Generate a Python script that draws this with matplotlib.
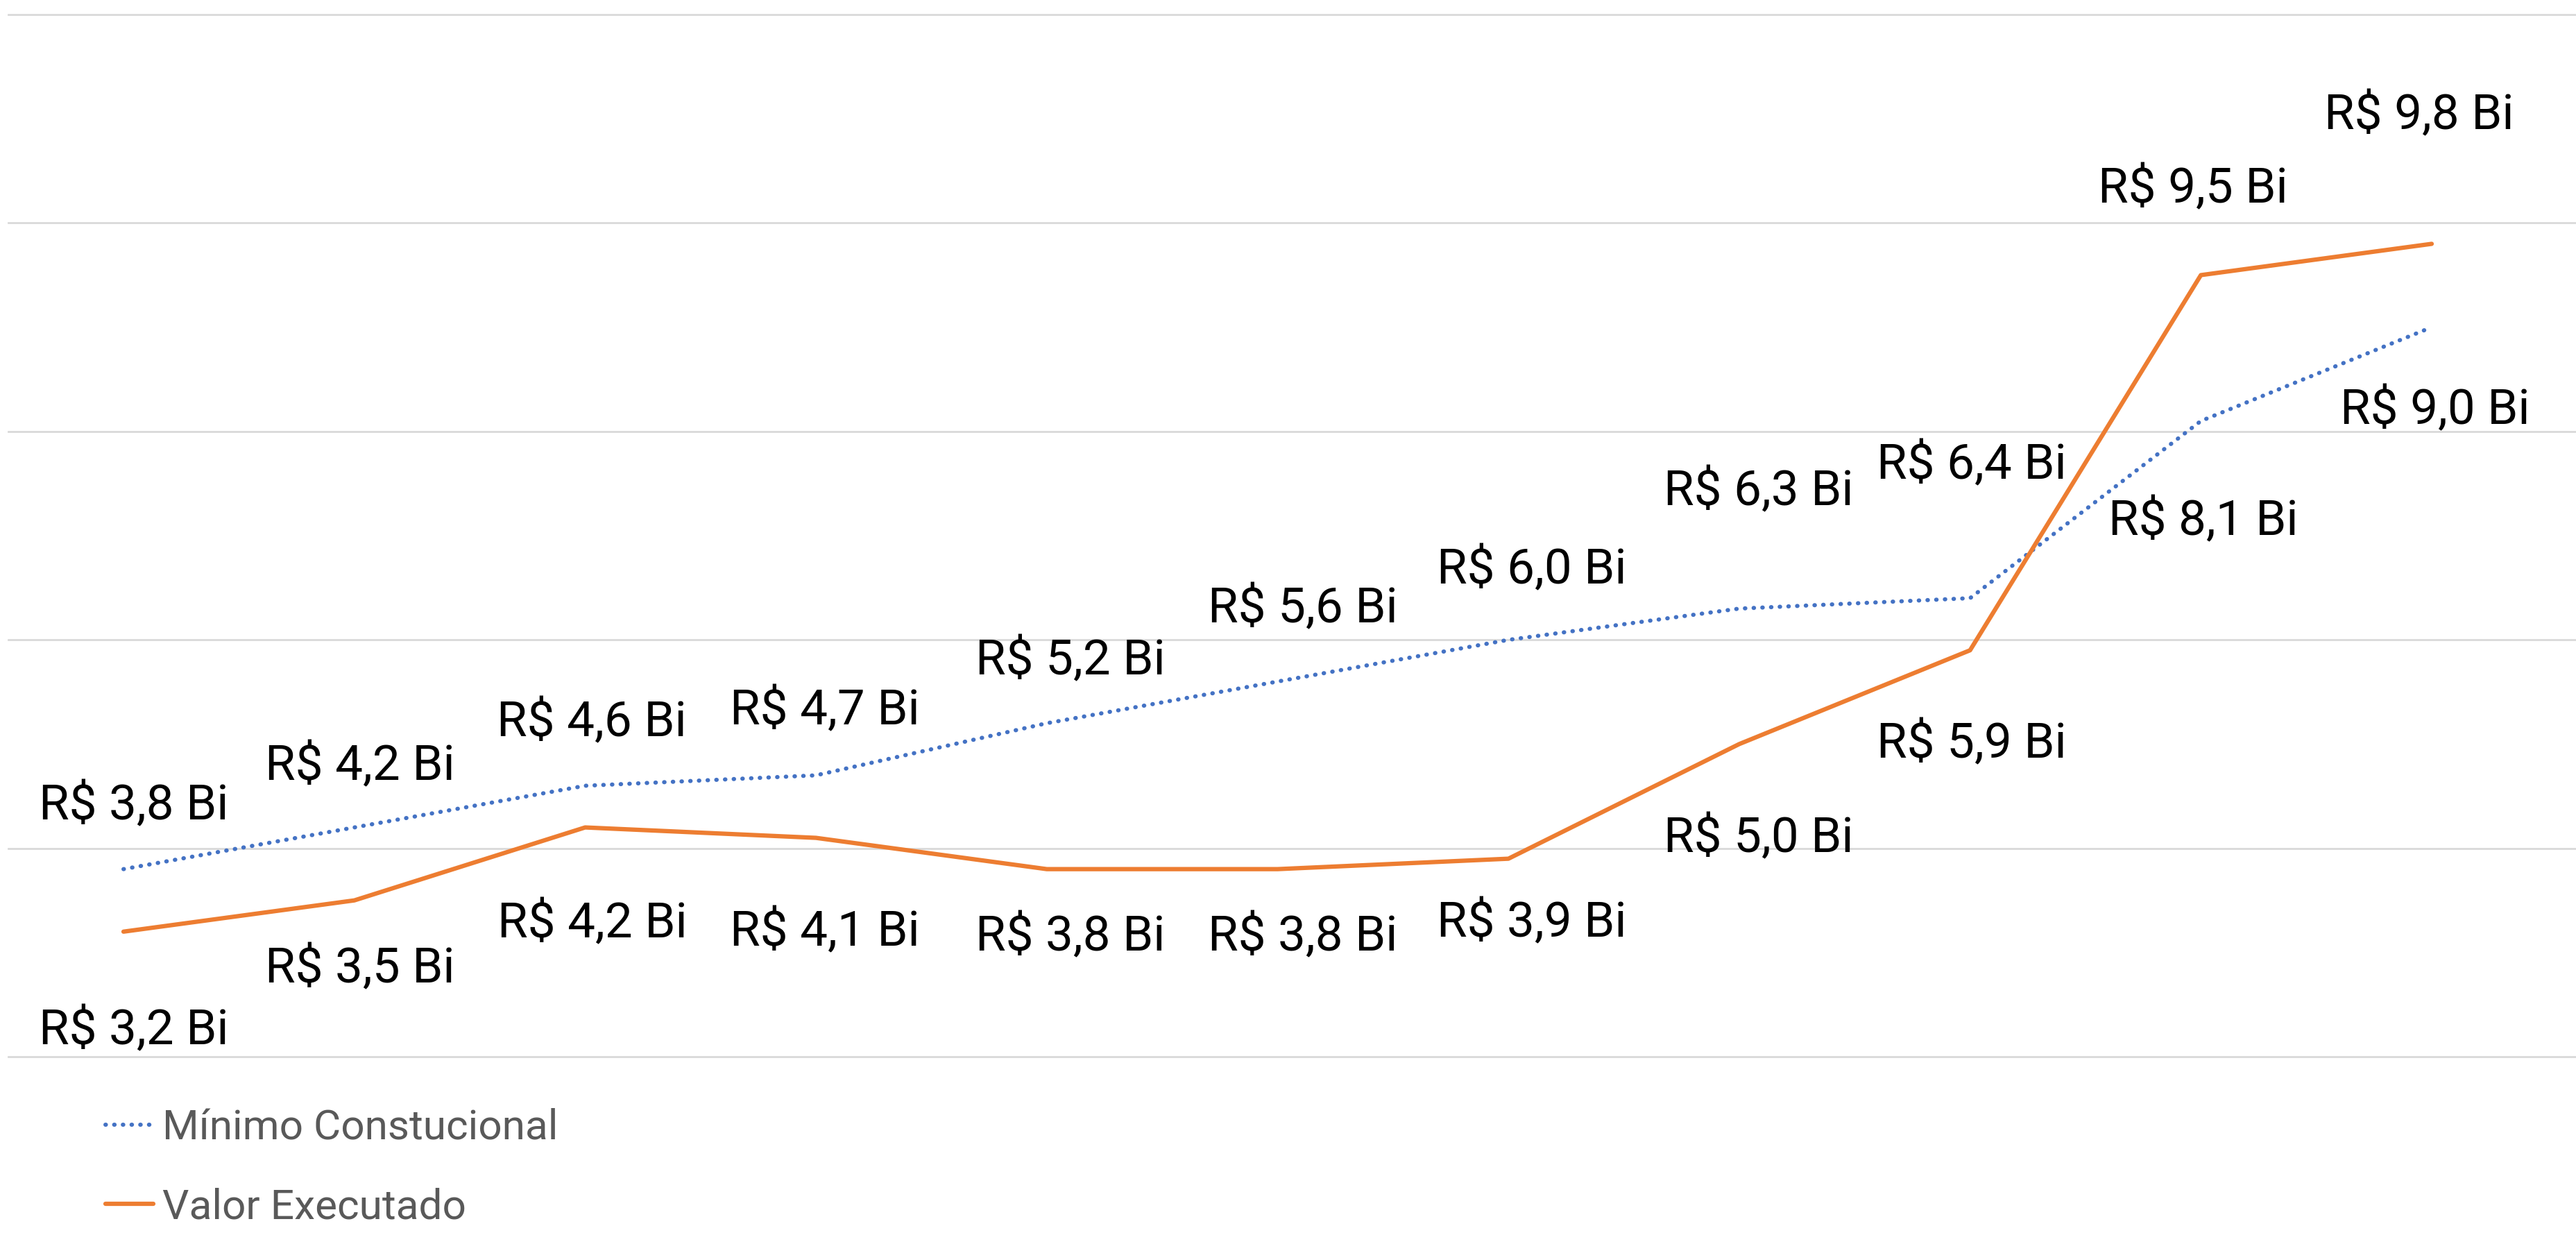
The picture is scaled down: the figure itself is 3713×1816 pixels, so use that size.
import matplotlib
matplotlib.use("Agg")
import matplotlib.pyplot as plt

plt.rcParams['font.family'] = ['Roboto', 'DejaVu Sans']

# valores em bilhoes de reais, 11 periodos
minimo = [3.8, 4.2, 4.6, 4.7, 5.2, 5.6, 6.0, 6.3, 6.4, 8.1, 9.0]
executado = [3.2, 3.5, 4.2, 4.1, 3.8, 3.8, 3.9, 5.0, 5.9, 9.5, 9.8]
series_names = ["Mínimo Constucional", "Valor Executado"]

# deslocamento dos rotulos em pixels (dx, dy para baixo), medido na imagem
min_dx = [15, 8, 9, 13, 34, 36, 34, 28, 2, 4, 5]
min_dy = [-71, -68, -71, -73, -70, -85, -81, -149, -172, 165, 140]
exe_dx = [15, 8, 10, 13, 34, 36, 34, 28, 2, -11, -18]
exe_dy = [163, 119, 159, 156, 118, 118, 113, 156, 155, -104, -165]

W, H, DPI = 3713, 1816, 100
fig = plt.figure(figsize=(W / DPI, H / DPI), dpi=DPI)
ax = fig.add_axes([12 / W, 293 / H, (W - 12) / W, (1795 - 293) / H])

x = list(range(len(minimo)))
step = (3505 - 178) / 10
ax.set_xlim(-(178 - 12) / step, 10 + (W - 3505) / step)
ax.set_ylim(2, 12)

ax.plot(x, minimo, color='#4472C4', lw=4.3, dashes=(0.1, 2.0),
        dash_capstyle='round', solid_joinstyle='round', label=series_names[0], zorder=3)
ax.plot(x, executado, color='#ED7D31', lw=4.5, solid_capstyle='round',
        solid_joinstyle='round', label=series_names[1], zorder=4)

px2pt = 72 / DPI


def fmt(v):
    return "R$ " + ("%.1f" % v).replace('.', ',') + " Bi"


for i, v in enumerate(minimo):
    ax.annotate(fmt(v), (i, v), xytext=(min_dx[i] * px2pt, -min_dy[i] * px2pt),
                textcoords='offset points', ha='center', va='baseline',
                fontsize=51, color='black', zorder=5)
for i, v in enumerate(executado):
    ax.annotate(fmt(v), (i, v), xytext=(exe_dx[i] * px2pt, -exe_dy[i] * px2pt),
                textcoords='offset points', ha='center', va='baseline',
                fontsize=51, color='black', zorder=5)

ax.set_yticks(range(2, 13, 2))
ax.set_xticks([])
ax.tick_params(left=False, labelleft=False)
ax.grid(axis='y', color='#D9D9D9', lw=2)
for gl in ax.get_ygridlines():
    gl.set_clip_on(False)
for s in ax.spines.values():
    s.set_visible(False)

leg = fig.legend(loc='upper left', bbox_to_anchor=(152 / W, 1 - 1597 / H),
                 frameon=False, fontsize=43.5, handlelength=1.15,
                 handletextpad=0.2, labelspacing=0.95, borderpad=0, borderaxespad=0)
for t in leg.get_texts():
    t.set_color('#595959')

fig.savefig("out.png", dpi=DPI)
